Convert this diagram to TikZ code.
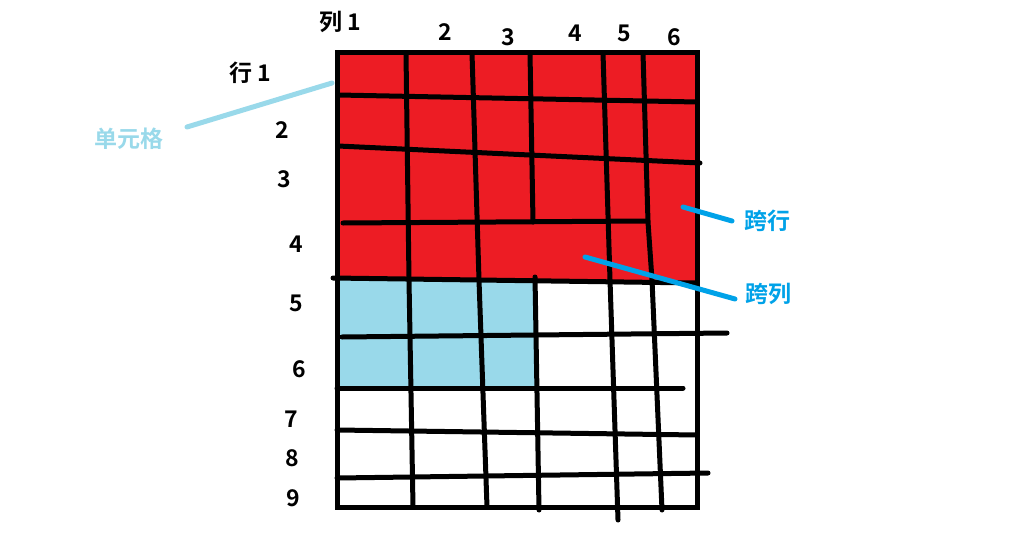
\documentclass[tikz,border=0pt]{standalone}
\usepackage{fontspec}
\newfontfamily\lbl{Noto Sans CJK SC}[UprightFont=* Bold]
\definecolor{pred}{HTML}{ED1C24}
\definecolor{pblue}{HTML}{99D9EA}
\definecolor{dblue}{HTML}{00A2E8}
\begin{document}
\begin{tikzpicture}[x=1pt,y=-1pt,
  gl/.style={line width=5pt,line cap=round,black},
  lab/.style={font=\lbl\fontsize{23}{26}\selectfont,inner sep=0pt},
  callout/.style={line width=5pt,line cap=round},
]
\useasboundingbox (0,0) rectangle (1016,551);
% fills
\fill[pred] (337,53) -- (697,53) -- (697,283) -- (337,278) -- cycle;
\fill[pblue] (337,280) rectangle (535,388);
% horizontal lines
\draw[gl] (338,95) -- (697,102);
\draw[gl] (338,146) -- (700,163);
\draw[gl] (343,223) -- (648,221);
\draw[gl] (333,278) -- (697,283);
\draw[gl] (342,337) -- (727,333);
\draw[gl] (337,388) -- (683,388);
\draw[gl] (337,430) -- (697,435);
\draw[gl] (337,478) -- (708,473);
% vertical lines
\draw[gl] (406,53) -- (409,280) -- (413,507);
\draw[gl] (472,53) -- (479,280) -- (487,507);
\draw[gl] (530,53) -- (533,222);
\draw[gl] (535,277) -- (539,510);
\draw[gl] (603,53) -- (610,280) -- (618,520);
\draw[gl] (643,53) -- (648,222) -- (652,280) -- (662,510);
% outer border
\draw[line width=5pt] (337,53) rectangle (697,507);
% column labels
\node[lab] (c1) at (340,22) {列 1};
\node[lab] (c2) at (445,32) {2};
\node[lab] (c3) at (508,37) {3};
\node[lab] (c4) at (575,33) {4};
\node[lab] (c5) at (624,33) {5};
\node[lab] (c6) at (674,37) {6};
% row labels
\node[lab] (r1) at (250,73) {行 1};
\node[lab] (r2) at (282,130) {2};
\node[lab] (r3) at (284,179) {3};
\node[lab] (r4) at (296,244) {4};
\node[lab] (r5) at (296,303) {5};
\node[lab] (r6) at (299,369) {6};
\node[lab] (r7) at (291,419) {7};
\node[lab] (r8) at (292,458) {8};
\node[lab] (r9) at (293,498) {9};
% callouts
\node[lab,text=pblue] (cell) at (129,139) {单元格};
\node[lab,text=dblue] (rspan) at (767,221) {跨行};
\node[lab,text=dblue] (cspan) at (768,294) {跨列};
\coordinate (cellpt) at (332,83);
\coordinate (cellst) at (187,127);
\coordinate (rspanpt) at (683,207);
\coordinate (rspanst) at (732,221);
\coordinate (cspanpt) at (585,257);
\coordinate (cspanst) at (735,299);
\draw[callout,pblue] (cellst) -- (cellpt);
\draw[callout,dblue] (rspanst) -- (rspanpt);
\draw[callout,dblue] (cspanst) -- (cspanpt);
\end{tikzpicture}
\end{document}
